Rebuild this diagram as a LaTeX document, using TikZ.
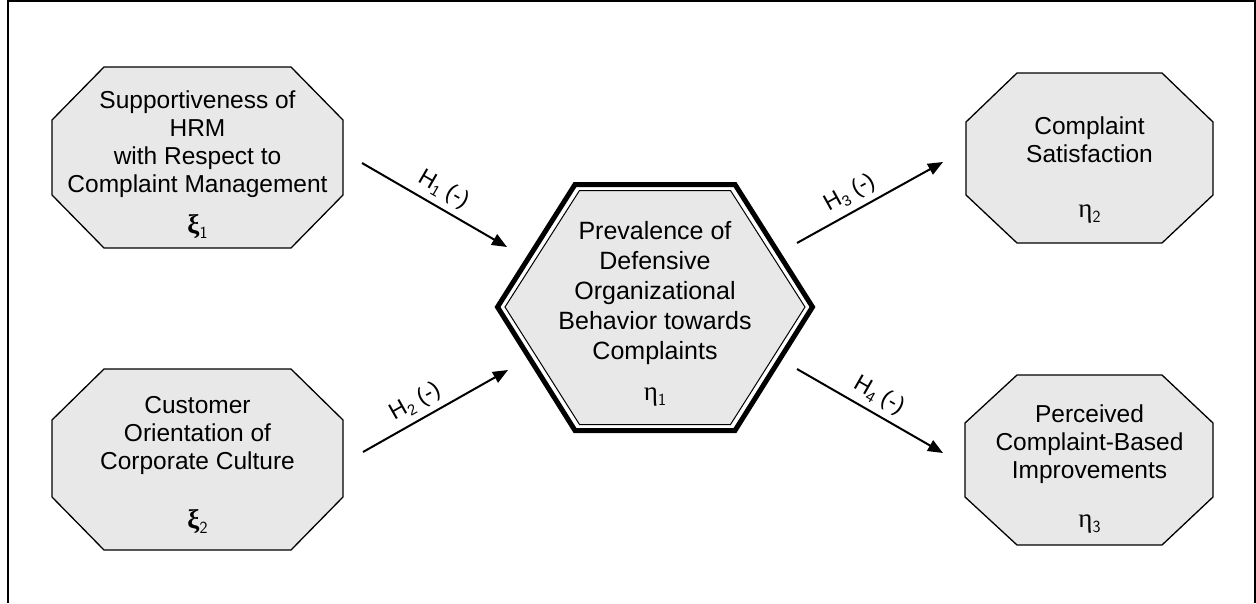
\documentclass[tikz,border=0pt]{standalone}
\usepackage{fontspec}
\setmainfont{Liberation Sans}
\newfontfamily\grk{Liberation Serif}
\usetikzlibrary{arrows.meta}
\definecolor{boxgray}{gray}{0.91}
\newcommand\mysub[1]{\raisebox{-4.5pt}{\fontsize{15}{15}\selectfont #1}}
\newcommand\gsub[1]{\raisebox{-5pt}{\fontsize{17}{17}\selectfont\sffamily\mdseries #1}}
\tikzset{
  frame/.style={draw=black, line width=1.3pt},
  octbox/.style={fill=boxgray, draw=black, line width=1.3pt, line join=miter},
  lbl/.style={align=center, font=\fontsize{24.5}{28}\selectfont, inner sep=0pt},
  hexlbl/.style={align=center, font=\fontsize{25}{30}\selectfont, inner sep=0pt},
  greek/.style={font=\fontsize{27}{27}\selectfont\grk, inner sep=0pt, anchor=base},
  arr/.style={line width=2pt, -{Triangle[length=15pt,width=12pt]}},
  hyp/.style={font=\fontsize{23}{23}\selectfont, sloped, inner sep=0pt, above=6pt}
}
\begin{document}
\begin{tikzpicture}[x=1pt,y=-1pt]
\useasboundingbox (0,0) rectangle (1256,603);
\draw[frame] (8,603) -- (8,1) -- (1255,1) -- (1255,603);

% octagon 1
\path[octbox] (104,67) -- (291,67) -- (343,120) -- (343,195) -- (291,248) -- (104,248) -- (52,195) -- (52,120) -- cycle;
% octagon 2
\path[octbox] (104,369) -- (291,369) -- (343,420) -- (343,497) -- (291,550) -- (104,550) -- (52,497) -- (52,420) -- cycle;
% octagon 3
\path[octbox] (1017,73) -- (1162,73) -- (1213,122) -- (1213,195) -- (1162,243) -- (1017,243) -- (966,195) -- (966,122) -- cycle;
% octagon 4
\path[octbox] (1017,375) -- (1162,375) -- (1213,423) -- (1213,497) -- (1162,545) -- (1017,545) -- (965,497) -- (965,423) -- cycle;

% hexagon
\path[fill=white, draw=black, line width=5pt, line join=miter]
  (497.5,307) -- (575,184.5) -- (735,184.5) -- (812.5,307) -- (735,430.5) -- (575,430.5) -- cycle;
\path[fill=boxgray, draw=black, line width=1pt, line join=miter]
  (505,307) -- (579.5,190.5) -- (730.5,190.5) -- (805,307) -- (730.5,424.5) -- (579.5,424.5) -- cycle;

% texts
\node[lbl, anchor=north] (t1) at (197.5,91) {Supportiveness of\\HRM\\with Respect to\\Complaint Management};
\node[greek] (g1) at (197.5,233) {\bfseries ξ\gsub{1}};
\node[lbl, anchor=north] (t2) at (197.5,396) {Customer\\Orientation of\\Corporate Culture};
\node[greek] (g2) at (197.5,528) {\bfseries ξ\gsub{2}};
\node[lbl, anchor=north] (t3) at (1089.5,117) {Complaint\\Satisfaction};
\node[greek] (g3) at (1089.5,217) {η\gsub{2}};
\node[lbl, anchor=north] (t4) at (1089.5,405) {Perceived\\Complaint-Based\\Improvements};
\node[greek] (g4) at (1089.5,527) {η\gsub{3}};
\node[hexlbl, anchor=north] (th) at (655,221) {Prevalence of\\Defensive\\Organizational\\Behavior towards\\Complaints};
\node[greek] (gh) at (655,400) {η\gsub{1}};

% arrow end points
\coordinate (a1s) at (362,163); \coordinate (a1e) at (507,247);
\coordinate (a2s) at (363,452); \coordinate (a2e) at (508,370);
\coordinate (a3s) at (797,243); \coordinate (a3e) at (943,162);
\coordinate (a4s) at (797,369); \coordinate (a4e) at (943,453);

\draw[arr] (a1s) -- node[hyp, pos=0.5] (h1) {H\mysub{1} (-)} (a1e);
\draw[arr] (a2s) -- node[hyp, pos=0.42] (h2) {H\mysub{2} (-)} (a2e);
\draw[arr] (a3s) -- node[hyp, pos=0.42] (h3) {H\mysub{3} (-)} (a3e);
\draw[arr] (a4s) -- node[hyp, pos=0.5] (h4) {H\mysub{4} (-)} (a4e);
\end{tikzpicture}
\end{document}
